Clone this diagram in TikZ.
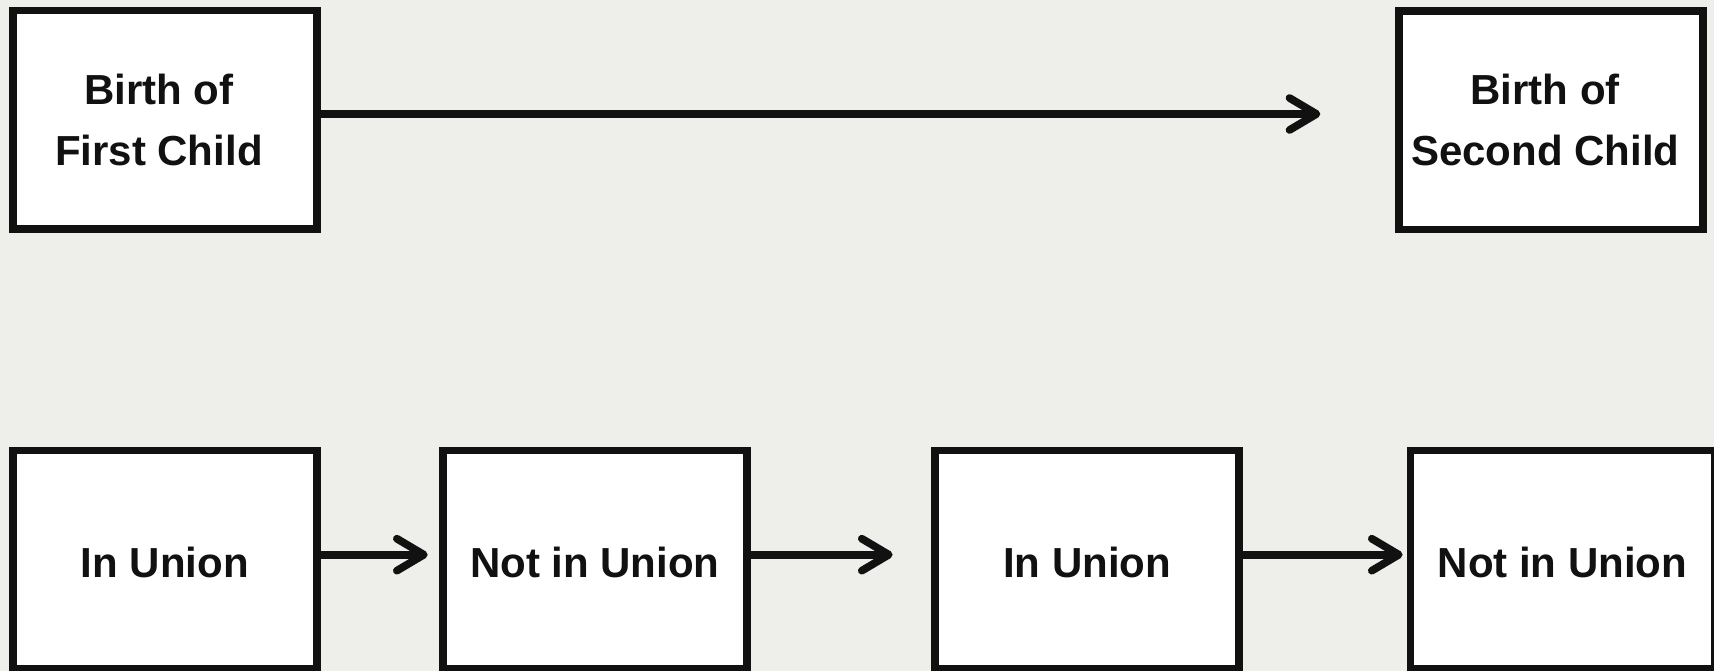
\documentclass[tikz,border=0pt]{standalone}
\usepackage{fontspec}
\setmainfont{Liberation Sans}
\usetikzlibrary{arrows.meta}
\definecolor{paper}{RGB}{238,238,234}
\definecolor{ink}{RGB}{17,17,17}
\tikzset{
  statebox/.style={draw=ink, fill=white, line width=7.7pt, rectangle,
    minimum width=304pt, minimum height=218.3pt, inner sep=0pt},
  boxtext/.style={text=ink, align=center,
    font=\fontsize{42}{61}\selectfont\bfseries},
  oneline/.style={boxtext, text height=30pt, text depth=0pt, yshift=-3pt},
  flow/.style={draw=ink, line width=7.7pt,
    -{Straight Barb[length=27pt,width=32pt,round]}},
}
\begin{document}
\begin{tikzpicture}[x=1pt,y=-1pt]
  % canvas
  \fill[paper] (0,0) rectangle (1714,671);
  \useasboundingbox (0,0) rectangle (1714,671);

  % births
  \node[statebox, label={[boxtext, xshift=-6pt]center:Birth of\\First Child}] (b1) at (164.85,119.7) {};
  \node[statebox, label={[boxtext, xshift=-6pt]center:Birth of\\Second Child}] (b2) at (1551.2,120.3) {};

  % union states
  \node[statebox, label={[oneline]center:In Union}] (c1) at (164.85,559.7) {};
  \node[statebox, label={[oneline]center:Not in Union}] (c2) at (594.85,559.7) {};
  \node[statebox, label={[oneline]center:In Union}] (c3) at (1087.2,559.7) {};
  \node[statebox, label={[oneline]center:Not in Union}] (c4) at (1562.5,559.7) {};

  % transitions
  \draw[flow, shorten >=75pt] ([yshift=5.7pt]b1.east) -- ([yshift=6.3pt]b2.west);
  \draw[flow, shorten >=11.3pt] ([yshift=5pt]c1.east) -- ([yshift=5pt]c2.west);
  \draw[flow, shorten >=38.7pt] ([yshift=5pt]c2.east) -- ([yshift=5pt]c3.west);
  \draw[flow, shorten >=4pt] ([yshift=5pt]c3.east) -- ([yshift=5pt]c4.west);
\end{tikzpicture}
\end{document}
